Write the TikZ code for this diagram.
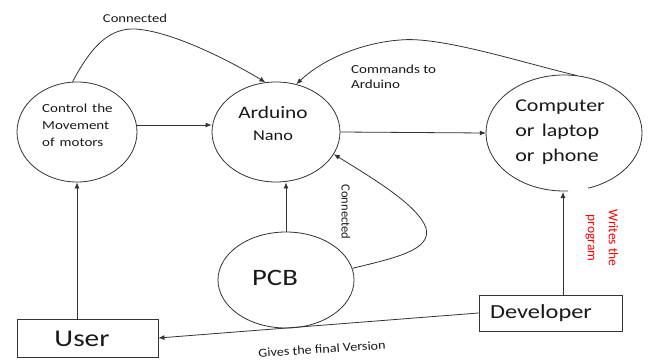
\documentclass[tikz,border=0pt]{standalone}
\usepackage{fontspec}
\setmainfont{Carlito}
\usetikzlibrary{arrows.meta,shapes.geometric}
\tikzset{
  ln/.style={draw=black!80, line width=0.8pt},
  arr/.style={ln, -{Latex[length=6pt,width=5pt]}},
  oval/.style={ellipse, draw=black!80, line width=0.8pt, inner sep=0pt},
  hidoval/.style={ellipse, inner sep=0pt},
  box/.style={rectangle, draw=black!80, line width=0.8pt, inner sep=0pt},
  txt/.style={inner sep=0pt, xscale=1.22, transform shape, text=black!90},
}
\newcommand{\fs}[2]{\fontsize{#1}{#2}\selectfont}
\begin{document}
\begin{tikzpicture}[x=1pt,y=-1pt]
\useasboundingbox[fill=white] (0,0) rectangle (650,359);

% shapes
\node[oval, minimum width=120pt, minimum height=100pt] (ctrl) at (77,132) {};
\node[oval, minimum width=128pt, minimum height=100pt] (ard) at (276,132) {};
\node[hidoval, minimum width=156pt, minimum height=116pt] (comp) at (564,133) {};
\node[oval, minimum width=136pt, minimum height=96pt] (pcb) at (286,280) {};
\node[box, minimum width=141pt, minimum height=38pt] (user) at (87.5,338) {};
\node[box, minimum width=143pt, minimum height=36pt] (dev) at (550.5,313) {};

% computer ellipse with small gap at the bottom
\draw[ln] ([shift={(-72:78pt and 58pt)}]comp.center) arc[start angle=-72, end angle=273, x radius=78pt, y radius=58pt];

% texts
\node[txt, font=\fs{12.3}{17}, align=left, anchor=west, text width=70pt] (ctrlt) at (42,125)
  {Control the\\Movement\\of motors};
\node[txt, font=\fs{17.5}{20}] (ardt1) at (273,112) {Arduino};
\node[txt, font=\fs{15}{18}] (ardt2) at (273,136) {Nano};
\node[txt, font=\fs{18}{25}, align=left, anchor=west, text width=80pt] (compt) at (515,132)
  {Computer\\or laptop\\or phone};
\node[txt, font=\fs{23.5}{26}] (pcbt) at (275,278) {PCB};
\node[txt, font=\fs{24}{26}] (usert) at (82,339) {User};
\node[txt, font=\fs{20}{22}] (devt) at (541,313) {Developer};

% connectors
\draw[arr] (user.north -| ctrl.south) -- (ctrl.south);
\draw[arr] (ctrl.east |- 0,125) -- (ard.west |- 0,125);
\draw[arr] (ard.east) -- (comp.west);
\draw[arr] (pcb.north) -- (pcb.north |- ard.south);
\draw[arr] (dev.north -| 563,0) -- (563,192);
\draw[arr] (dev.west) -- (user.east);

\draw[arr] (ctrl.95) .. controls (92,45) and (110,28) .. (135,29)
  .. controls (170,31) and (225,58) .. (ard.102);
\draw[arr] (comp.77) .. controls (520,62) and (440,36) .. (400,40)
  .. controls (360,43) and (322,60) .. (ard.67);
\draw[arr] (pcb.10) .. controls (395,258) and (432,250) .. (426,228)
  .. controls (418,205) and (372,178) .. (ard.-21);

% labels
\node[txt, font=\fs{12}{14}] (l1) at (135,18) {Connected};
\node[txt, font=\fs{12.3}{15}, align=left, anchor=west] (l2) at (351,77)
  {Commands to\\Arduino};
\node[inner sep=0pt, font=\fs{12.5}{14}, rotate=-90, text=black!90] (l3) at (346,212) {Connected};
\node[inner sep=0pt, font=\fs{12.3}{14}, rotate=3.7, text=black!90, xscale=1.15] (l4) at (322,349) {Gives the final Version};
\node[inner sep=0pt, font=\fs{13.5}{21}, rotate=-90, text=red, align=center] (l5) at (602,238)
  {Writes the\\program};
\end{tikzpicture}
\end{document}
